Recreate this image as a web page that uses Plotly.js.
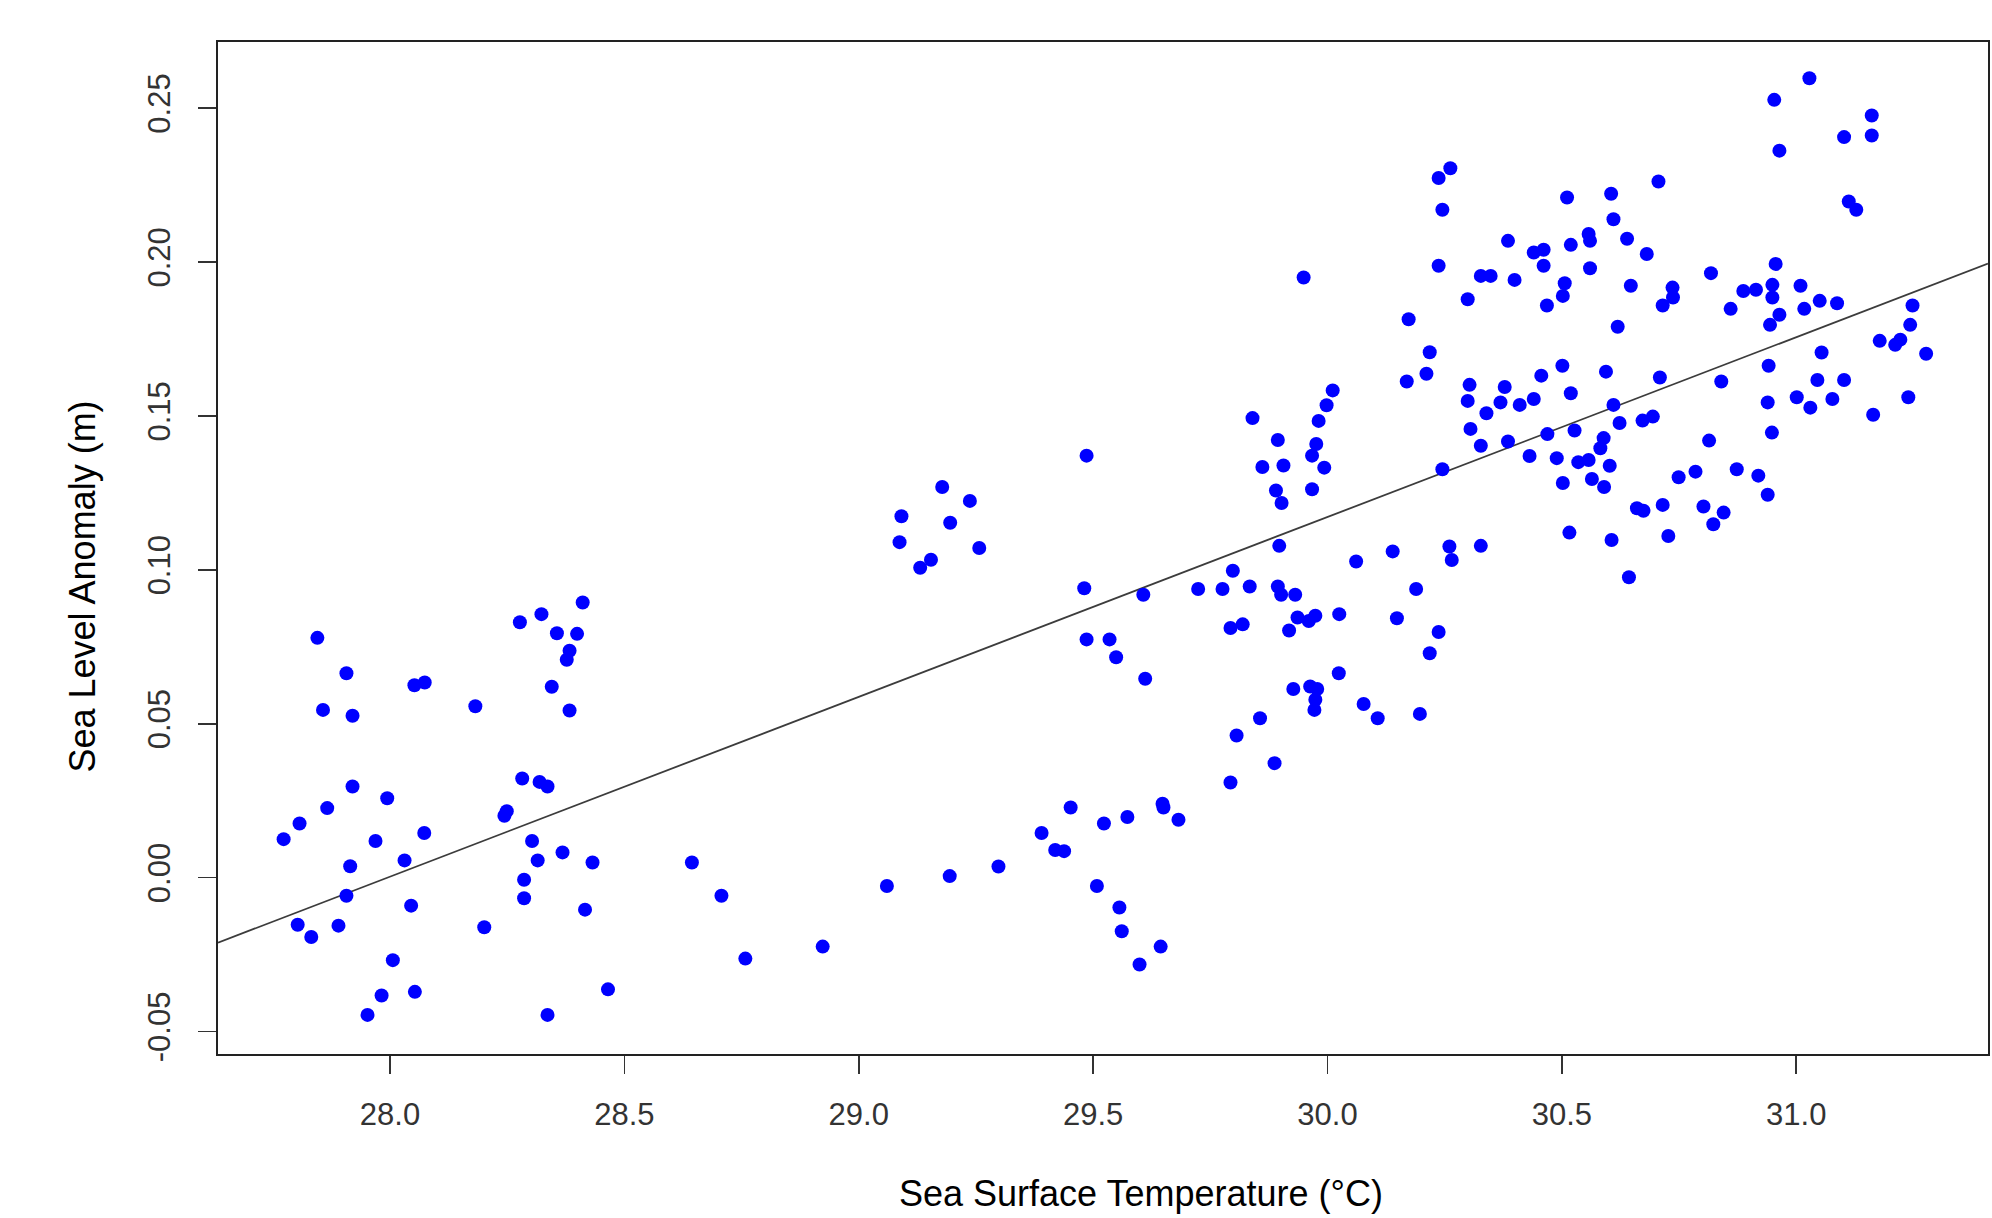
<!DOCTYPE html>
<html>
<head>
<meta charset="utf-8">
<script src="https://cdn.plot.ly/plotly-3.0.1.min.js"></script>
<style>
html,body{margin:0;padding:0;background:#ffffff;}
#chart{width:1992px;height:1218px;}
</style>
</head>
<body>
<div id="chart"></div>
<script>
// Sea surface temperature (°C) for each observation
const sst = [
27.845,27.907,27.857,27.920,28.052,28.074,28.182,28.277,28.323,28.411,
28.356,28.399,28.383,28.377,28.345,28.383,27.920,27.994,27.866,27.807,
27.773,27.969,28.073,27.915,28.031,27.907,28.045,27.803,27.890,27.832,
28.006,27.982,28.053,27.952,28.282,28.319,28.336,28.249,28.244,28.303,
28.368,28.432,28.315,28.286,28.286,28.201,28.416,28.465,28.336,
29.178,29.237,29.091,29.195,29.087,29.257,29.154,29.131,28.644,28.707,
28.758,28.923,29.060,29.194,29.298,29.390,
29.486,29.481,29.607,29.486,29.535,29.549,29.611,29.452,29.419,29.438,
29.523,29.573,29.648,29.650,29.682,29.508,29.556,29.561,29.644,29.599,
29.949,30.173,30.218,30.211,30.169,30.011,29.998,29.840,29.981,29.894,
29.976,29.967,29.861,29.906,29.993,
29.890,29.967,29.902,29.897,30.061,30.139,29.798,29.724,29.776,29.834,
29.894,29.901,29.931,30.189,30.025,29.936,29.974,29.960,29.819,29.793,
29.918,30.148,30.237,30.218,30.024,29.927,29.963,29.978,29.974,29.972,
30.077,30.107,30.197,29.856,29.806,29.887,29.793,
30.262,30.237,30.245,30.237,30.299,30.327,30.348,30.385,30.399,30.440,
30.461,30.461,30.511,30.519,30.557,30.560,30.560,30.506,30.502,30.468,
30.605,30.610,30.639,30.681,30.706,30.647,30.736,30.715,30.619,30.303,
30.299,30.339,30.369,30.378,30.410,30.440,30.456,30.501,30.519,30.594,
30.610,30.709,30.694,
30.305,30.327,30.385,30.431,30.469,30.489,30.527,30.502,30.535,30.557,
30.582,30.589,30.602,30.564,30.590,30.623,30.672,30.749,30.660,30.674,
30.715,30.516,30.606,30.727,30.643,30.260,30.265,30.327,30.245,
31.028,30.953,31.161,31.102,31.161,30.964,31.112,31.128,30.956,30.818,
30.737,30.887,30.914,30.949,30.949,30.860,31.009,31.050,31.087,31.017,
30.964,30.944,31.248,31.243,
31.178,31.211,31.222,31.277,31.054,30.941,30.840,31.045,31.102,31.001,
31.030,31.077,30.939,31.239,31.164,30.948,30.814,30.785,30.873,30.919,
30.939,30.802,30.845,30.823
];

// Sea level anomaly (m) for each observation
const sla = [
0.0779,0.0664,0.0545,0.0526,0.0625,0.0634,0.0557,0.0830,0.0856,0.0894,
0.0794,0.0792,0.0737,0.0708,0.0620,0.0543,0.0296,0.0258,0.0226,0.0176,
0.0125,0.0119,0.0145,0.0037,0.0056,-0.0059,-0.0091,-0.0153,-0.0156,-0.0193,
-0.0268,-0.0383,-0.0371,-0.0446,0.0322,0.0311,0.0296,0.0216,0.0201,0.0119,
0.0082,0.0049,0.0056,-0.0007,-0.0067,-0.0161,-0.0104,-0.0363,-0.0446,
0.1269,0.1224,0.1174,0.1153,0.1090,0.1071,0.1033,0.1007,0.0049,-0.0059,
-0.0263,-0.0224,-0.0027,0.0005,0.0036,0.0145,
0.1371,0.0940,0.0919,0.0774,0.0774,0.0716,0.0646,0.0228,0.0090,0.0086,
0.0176,0.0197,0.0240,0.0228,0.0188,-0.0027,-0.0097,-0.0174,-0.0224,-0.0282,
0.1950,0.1814,0.1707,0.1637,0.1612,0.1583,0.1535,0.1493,0.1484,0.1422,
0.1409,0.1371,0.1334,0.1339,0.1332,
0.1258,0.1262,0.1217,0.1078,0.1027,0.1060,0.0997,0.0938,0.0938,0.0946,
0.0946,0.0919,0.0919,0.0938,0.0856,0.0845,0.0851,0.0834,0.0823,0.0811,
0.0803,0.0843,0.0798,0.0729,0.0664,0.0613,0.0621,0.0613,0.0578,0.0545,
0.0564,0.0518,0.0532,0.0518,0.0462,0.0372,0.0309,
0.2305,0.2273,0.2170,0.1988,0.1879,0.1955,0.1955,0.2069,0.1942,0.2031,
0.2040,0.1988,0.2210,0.2056,0.2091,0.2069,0.1980,0.1931,0.1890,0.1859,
0.2222,0.2139,0.2076,0.2026,0.2262,0.1923,0.1917,0.1859,0.1790,0.1601,
0.1549,0.1509,0.1544,0.1594,0.1536,0.1555,0.1631,0.1663,0.1574,0.1644,
0.1536,0.1625,0.1498,
0.1458,0.1403,0.1417,0.1370,0.1441,0.1363,0.1453,0.1282,0.1350,0.1357,
0.1395,0.1428,0.1338,0.1295,0.1269,0.1477,0.1485,0.1301,0.1200,0.1192,
0.1211,0.1121,0.1097,0.1110,0.0976,0.1076,0.1032,0.1078,0.1327,
0.2597,0.2527,0.2476,0.2406,0.2411,0.2362,0.2197,0.2170,0.1994,0.1964,
0.1885,0.1906,0.1910,0.1926,0.1885,0.1848,0.1923,0.1874,0.1866,0.1848,
0.1829,0.1796,0.1859,0.1796,
0.1744,0.1731,0.1748,0.1702,0.1706,0.1663,0.1612,0.1617,0.1617,0.1561,
0.1527,0.1555,0.1544,0.1561,0.1504,0.1446,0.1420,0.1319,0.1327,0.1306,
0.1244,0.1206,0.1186,0.1148
];

const xTitleText = "Sea Surface Temperature (°C)";
const yTitleText = "Sea Level Anomaly (m)";
const xTickVals = [28.0, 28.5, 29.0, 29.5, 30.0, 30.5, 31.0];
const xTickText = ["28.0", "28.5", "29.0", "29.5", "30.0", "30.5", "31.0"];
const yTickVals = [-0.05, 0.00, 0.05, 0.10, 0.15, 0.20, 0.25];
const yTickText = ["-0.05", "0.00", "0.05", "0.10", "0.15", "0.20", "0.25"];
const xRange = [27.633, 31.409];
const yRange = [-0.0573, 0.2715];

// Ordinary least-squares fit of sla on sst (the drawn regression line)
const n = Math.min(sst.length, sla.length);
let mx = 0, my = 0;
for (let i = 0; i < n; i++) { mx += sst[i]; my += sla[i]; }
mx /= n; my /= n;
let sxy = 0, sxx = 0;
for (let i = 0; i < n; i++) { sxy += (sst[i]-mx)*(sla[i]-my); sxx += (sst[i]-mx)*(sst[i]-mx); }
const slope = sxy / sxx;
const intercept = my - slope * mx;
const fitX = xRange.slice();
const fitY = fitX.map(v => intercept + slope * v);

const font = "Liberation Sans, Arial, Helvetica, sans-serif";

const points = {
  type: "scatter", mode: "markers",
  x: sst.slice(0, n), y: sla.slice(0, n),
  marker: {color: "#0000ff", size: 14, line: {width: 0}},
  hoverinfo: "x+y", showlegend: false, cliponaxis: true
};
const fit = {
  type: "scatter", mode: "lines",
  x: fitX, y: fitY,
  line: {color: "#3c3c3c", width: 1.8},
  hoverinfo: "skip", showlegend: false
};

const layout = {
  width: 1992, height: 1218,
  paper_bgcolor: "#ffffff", plot_bgcolor: "#ffffff",
  margin: {l: 218, r: 4, t: 42, b: 164, pad: 0},
  font: {family: font, color: "#222222"},
  showlegend: false,
  xaxis: {
    range: xRange, tickmode: "array", tickvals: xTickVals, ticktext: xTickText,
    ticks: "outside", ticklen: 18, tickwidth: 1.6, tickcolor: "#333333",
    showline: true, mirror: true, linecolor: "#222222", linewidth: 1.6,
    showgrid: false, zeroline: false, ticklabelstandoff: 14,
    tickfont: {family: font, size: 31, color: "#333333"}
  },
  yaxis: {
    range: yRange, tickmode: "array", tickvals: yTickVals, ticktext: yTickText,
    ticks: "outside", ticklen: 18, tickwidth: 1.6, tickcolor: "#333333",
    showline: true, mirror: true, linecolor: "#222222", linewidth: 1.6,
    showgrid: false, zeroline: false, tickangle: -90, ticklabelstandoff: 16,
    tickfont: {family: font, size: 31, color: "#333333"}
  },
  annotations: [
    {text: xTitleText, xref: "paper", yref: "paper", x: 0.5215, y: -0.1380,
     xanchor: "center", yanchor: "middle", showarrow: false,
     font: {family: font, size: 36, color: "#000000"}},
    {text: yTitleText, xref: "paper", yref: "paper", x: -0.0765, y: 0.4615,
     xanchor: "center", yanchor: "middle", showarrow: false, textangle: -90,
     font: {family: font, size: 36, color: "#000000"}}
  ]
};

Plotly.newPlot("chart", [fit, points], layout, {displayModeBar: false, staticPlot: true});
</script>
</body>
</html>
